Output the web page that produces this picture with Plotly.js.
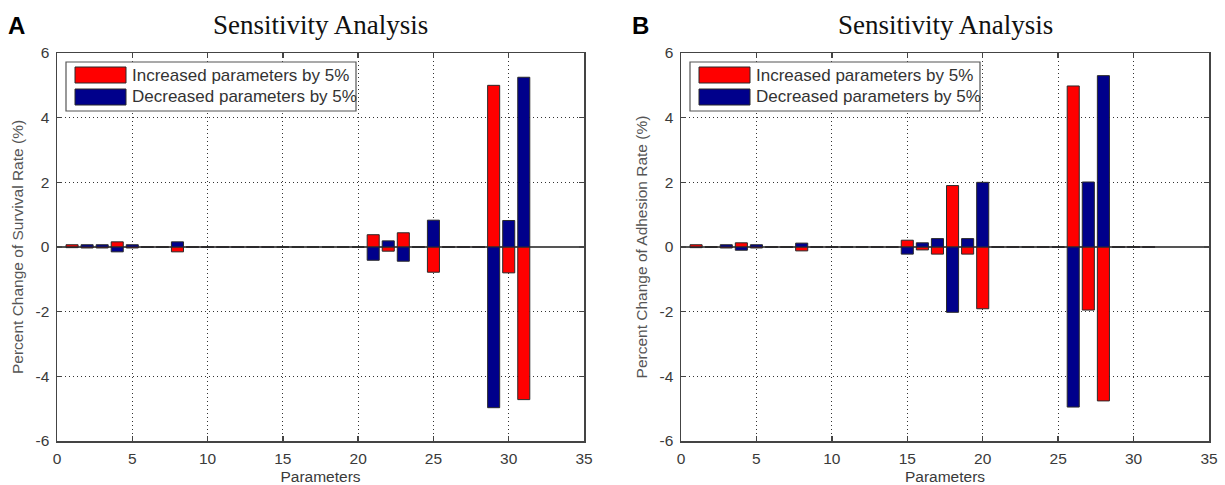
<!DOCTYPE html>
<html>
<head>
<meta charset="utf-8">
<script src="https://cdn.plot.ly/plotly-3.0.1.min.js"></script>
<style>html,body{margin:0;padding:0;background:#fff;}#chart{width:1225px;height:485px;}</style>
</head>
<body>
<div id="chart"></div>
<script>
// ---- data ----
const paramsA = [1,2,3,4,5,6,7,8,9,10,11,12,13,14,15,16,17,18,19,20,21,22,23,24,25,26,27,28,29,30,31];
const incA = [0.07,-0.03,-0.03,0.16,-0.03,0.01,0.01,-0.15,0.01,0.01,0.01,0.01,0.01,0.01,0,0,0,0,0,0,0.38,-0.13,0.44,0.01,-0.78,0.01,0.01,0.01,5.0,-0.8,-4.72];
const decA = [-0.02,0.07,0.07,-0.15,0.07,-0.01,-0.01,0.16,-0.01,-0.01,-0.01,-0.01,-0.01,-0.01,0,0,0,0,0,0,-0.41,0.19,-0.44,-0.01,0.83,-0.01,-0.01,-0.01,-4.97,0.82,5.25];

const paramsB = [1,2,3,4,5,6,7,8,9,10,11,12,13,14,15,16,17,18,19,20,21,22,23,24,25,26,27,28,29,30,31];
const incB = [0.07,0.01,-0.03,0.13,-0.03,0.01,0.01,-0.12,0.01,0.01,0.01,0.01,0.01,0.01,0.21,-0.09,-0.22,1.9,-0.22,-1.91,0.01,0.01,0.01,0.01,0.01,4.98,-1.95,-4.76,0.01,0.01,0.01];
const decB = [-0.02,-0.01,0.07,-0.1,0.07,-0.01,-0.01,0.12,-0.01,-0.01,-0.01,-0.01,-0.01,-0.01,-0.22,0.13,0.26,-2.02,0.26,2.0,-0.01,-0.01,-0.01,-0.01,-0.01,-4.95,2.01,5.3,-0.01,-0.01,-0.01];

const legendLabels = ["Increased parameters by 5%", "Decreased parameters by 5%"];
const panelTitle = "Sensitivity Analysis";
const yTitles = ["Percent Change of Survival Rate (%)", "Percent Change of Adhesion Rate (%)"];
const xTitle = "Parameters";
const panelLetters = ["A", "B"];
const xTickVals = [0,5,10,15,20,25,30,35];
const yTickVals = [-6,-4,-2,0,2,4,6];
const yTickText = ["-6","-4","-2","0","2","4","6"];

// ---- styles ----
const RED = "#ff0000", BLUE = "#00008b", EDGE = "#2a2a2a";
const W = 1225, H = 485;
const px = v => v / W, py = v => 1 - v / H;

function barTrace(x, y, color, xa, ya, name) {
  return {type: "bar", x: x, y: y, name: name, xaxis: xa, yaxis: ya, width: 0.8,
    marker: {color: color, line: {color: EDGE, width: 1}}, showlegend: false, hoverinfo: "x+y"};
}

const data = [
  barTrace(paramsA, incA, RED, "x", "y", legendLabels[0]),
  barTrace(paramsA, decA, BLUE, "x", "y", legendLabels[1]),
  barTrace(paramsB, incB, RED, "x2", "y2", legendLabels[0]),
  barTrace(paramsB, decB, BLUE, "x2", "y2", legendLabels[1])
];

const SANS = "Liberation Sans, Arial, sans-serif";
const tickFont = {family: SANS, size: 15.5, color: "#3a3a3a"};
const common = {showline: true, mirror: "ticks", linecolor: "#444", linewidth: 1.5,
  ticks: "inside", ticklen: 5, tickcolor: "#444", tickwidth: 1.5,
  showgrid: true, griddash: "1px,3px", gridcolor: "#333", gridwidth: 1,
  tickfont: tickFont, ticklabelstandoff: 3};
function xAxis(domain, anchor) {
  return Object.assign({}, common, {domain: domain, anchor: anchor, range: [0, 35], tickmode: "array", tickvals: xTickVals,
    zeroline: false,
    title: {text: xTitle, font: {family: SANS, size: 15.5, color: "#3a3a3a"}, standoff: 6}});
}
function yAxis(domain, anchor, title) {
  return Object.assign({}, common, {domain: domain, anchor: anchor, range: [-6, 6], tickmode: "array",
    tickvals: yTickVals, ticktext: yTickText,
    zeroline: true, zerolinecolor: "#555", zerolinewidth: 1.5,
    title: {text: title, font: {family: SANS, size: 15.5, color: "#555"}, standoff: 8}});
}

const yDom = [py(441), py(53)];
const layout = {
  width: W, height: H, margin: {l: 0, r: 0, t: 0, b: 0},
  paper_bgcolor: "#fff", plot_bgcolor: "#fff",
  barmode: "overlay", showlegend: false,
  xaxis: xAxis([px(57), px(584)], "y"),
  yaxis: yAxis(yDom, "x", yTitles[0]),
  xaxis2: xAxis([px(681), px(1209)], "y2"),
  yaxis2: yAxis(yDom, "x2", yTitles[1]),
  shapes: [], annotations: []
};

// panel titles, letters and legends
const panels = [{l: 57, r: 584}, {l: 681, r: 1209}];
panels.forEach((p, i) => {
  layout.annotations.push({xref: "paper", yref: "paper", x: px((p.l + p.r) / 2), y: py(25),
    text: panelTitle, showarrow: false, xanchor: "center", yanchor: "middle",
    font: {family: "Liberation Serif, Times New Roman, serif", size: 27, color: "#111"}});
  layout.annotations.push({xref: "paper", yref: "paper", x: px(p.l - 41), y: py(25),
    text: "<b>" + panelLetters[i] + "</b>", showarrow: false, xanchor: "center", yanchor: "middle",
    font: {family: SANS, size: 24, color: "#000"}});
  const bx0 = p.l + 9, bx1 = p.l + 299, by0 = 62, by1 = 111;
  layout.shapes.push({type: "rect", xref: "paper", yref: "paper", x0: px(bx0), x1: px(bx1), y0: py(by0), y1: py(by1),
    line: {color: "#555", width: 1.2}, fillcolor: "#fff", layer: "above"});
  [[RED, 67, 83], [BLUE, 89, 105]].forEach((s, k) => {
    layout.shapes.push({type: "rect", xref: "paper", yref: "paper", x0: px(p.l + 18), x1: px(p.l + 69), y0: py(s[1]), y1: py(s[2]),
      line: {color: EDGE, width: 1}, fillcolor: s[0], layer: "above"});
    layout.annotations.push({xref: "paper", yref: "paper", x: px(p.l + 73), y: py((s[1] + s[2]) / 2),
      text: legendLabels[k], showarrow: false, xanchor: "left", yanchor: "middle",
      font: {family: SANS, size: 17, color: "#333"}});
  });
});

Plotly.newPlot("chart", data, layout, {displayModeBar: false, staticPlot: true});
</script>
</body>
</html>
